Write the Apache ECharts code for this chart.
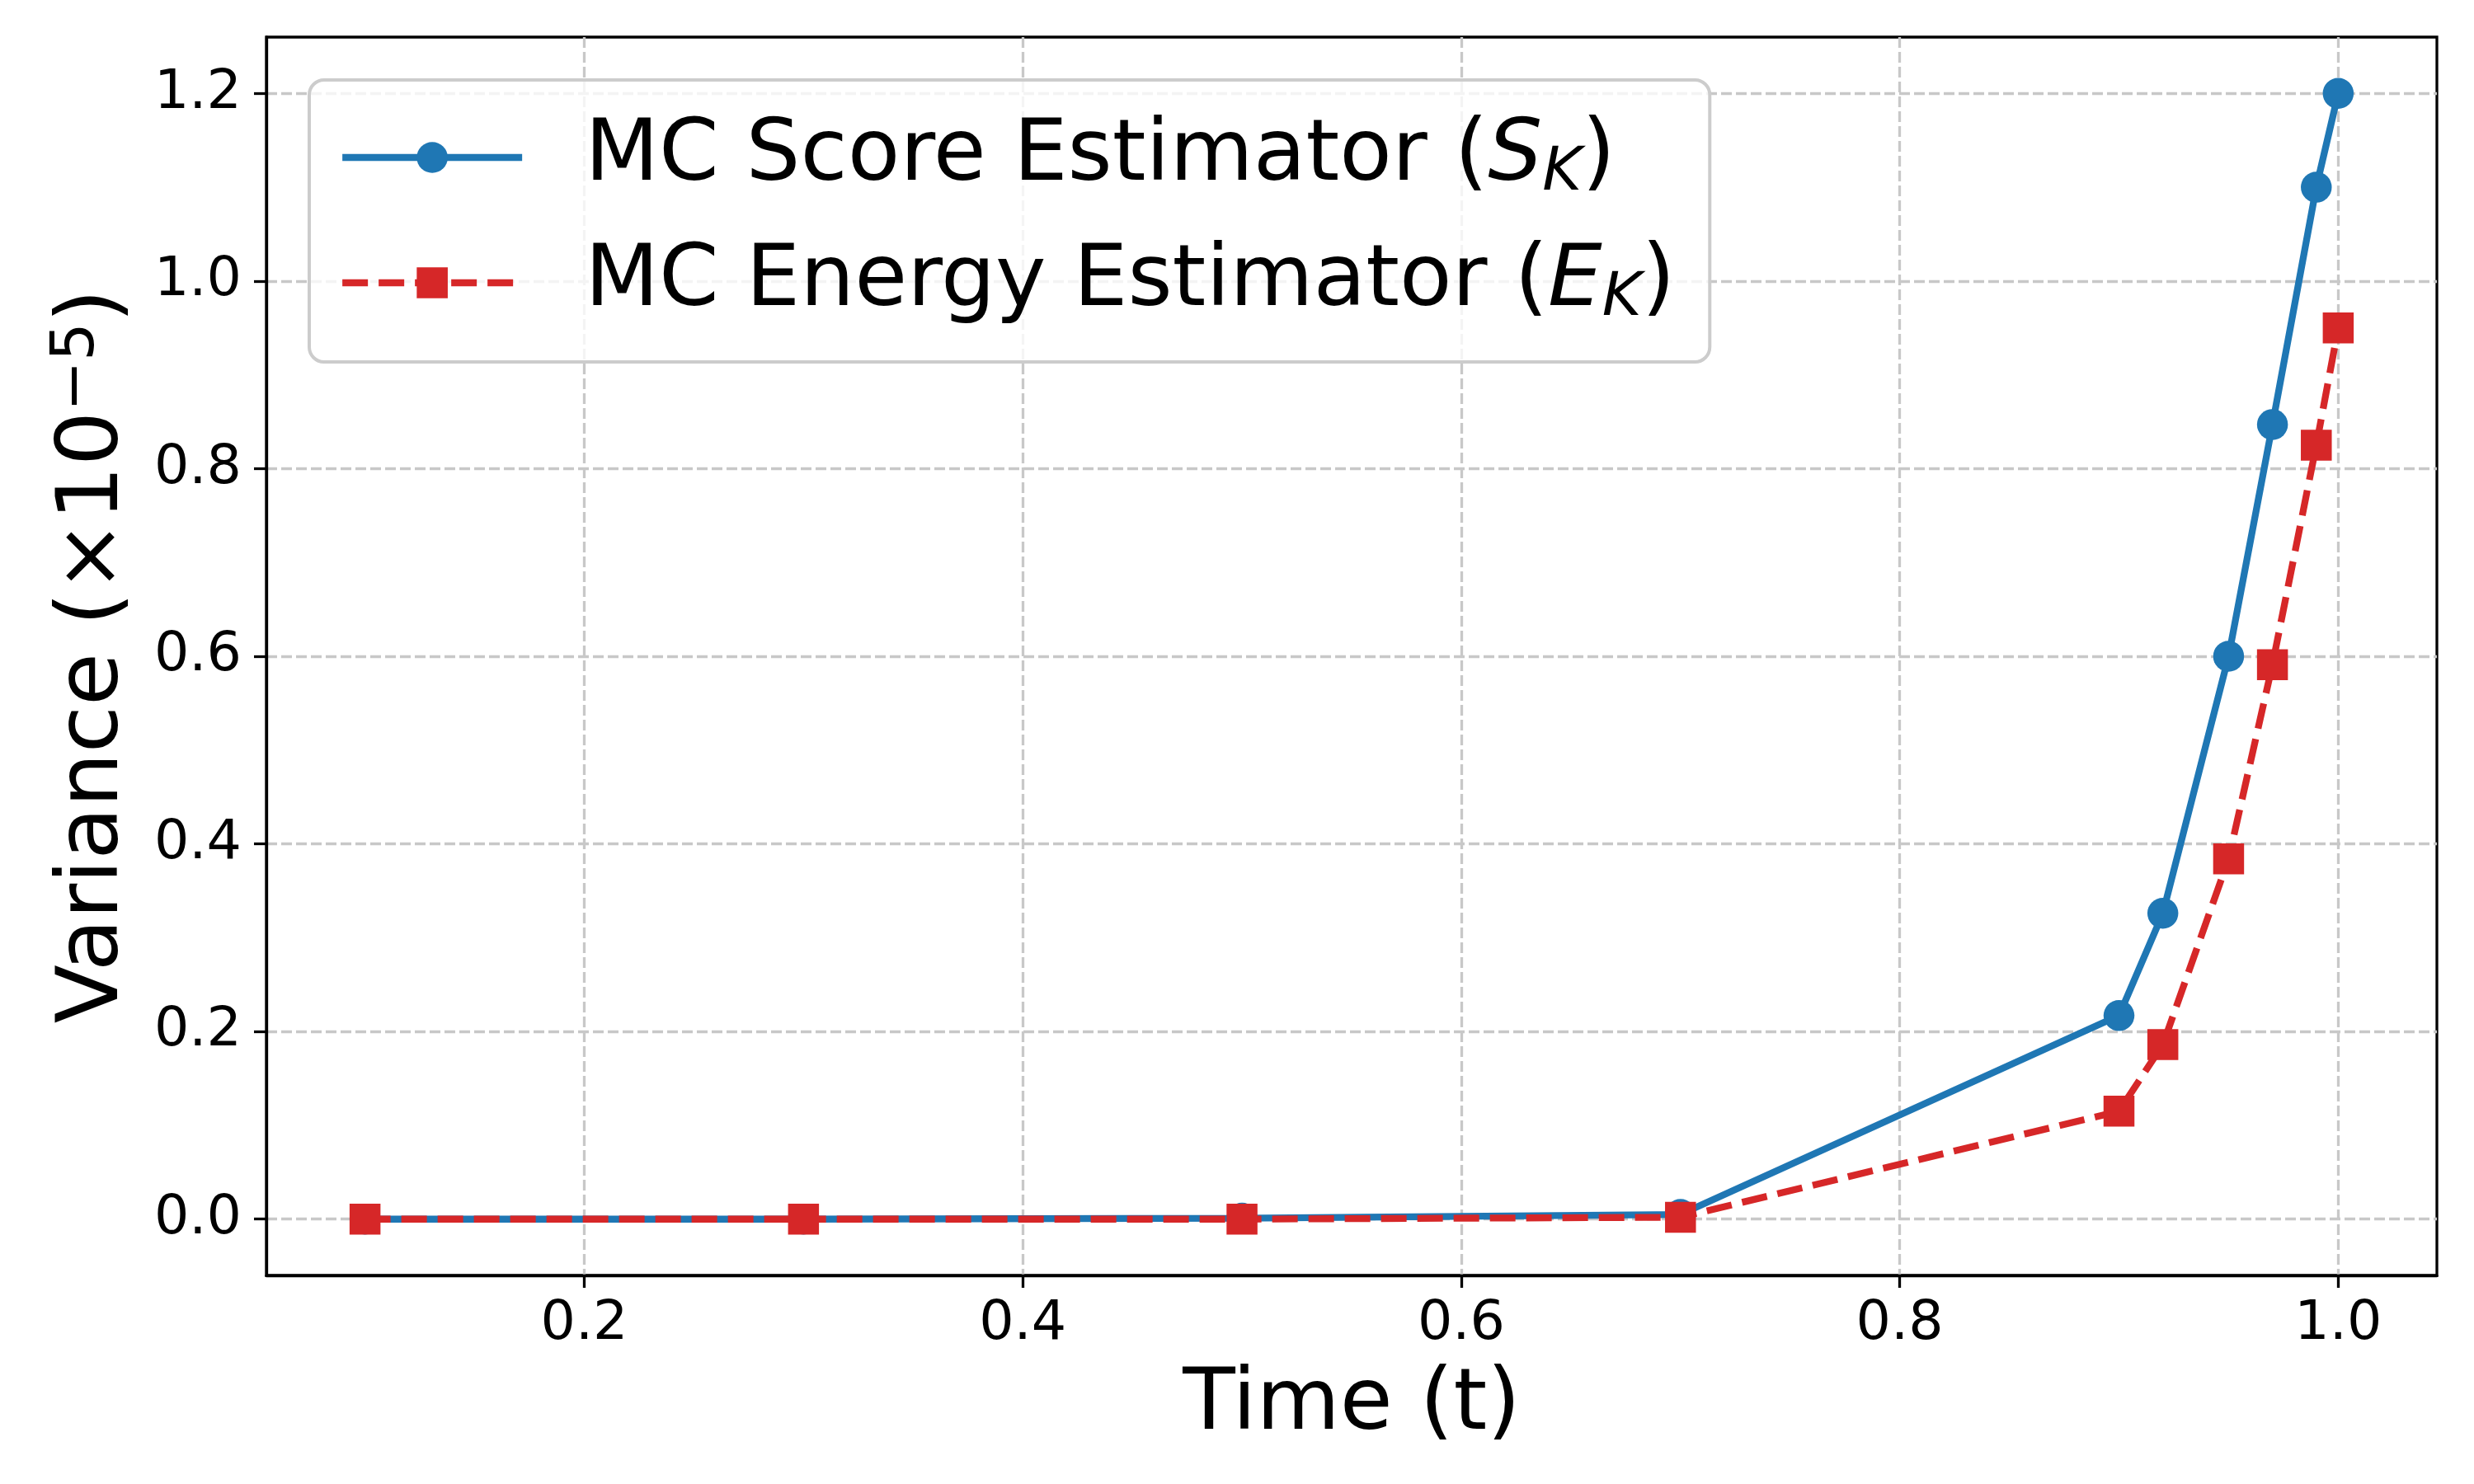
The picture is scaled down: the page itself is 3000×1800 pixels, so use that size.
<!DOCTYPE html>
<html>
<head>
<meta charset="utf-8">
<script src="https://cdn.jsdelivr.net/npm/echarts@6/dist/echarts.min.js"></script>
<style>
html,body{margin:0;padding:0;background:#fff;}
#chart{width:3000px;height:1800px;}
</style>
</head>
<body>
<div id="chart"></div>
<script>
// ---- data ----
var times = [0.1, 0.3, 0.5, 0.7, 0.9, 0.92, 0.95, 0.97, 0.99, 1.0];
var scoreVar = [0.0, 0.0, 0.001, 0.005, 0.217, 0.326, 0.600, 0.847, 1.100, 1.200];
var energyVar = [0.0, 0.0, 0.0, 0.002, 0.115, 0.186, 0.384, 0.591, 0.825, 0.950];
var xTicks = [0.2, 0.4, 0.6, 0.8, 1.0];
var yTicks = [0.0, 0.2, 0.4, 0.6, 0.8, 1.0, 1.2];
var seriesNames = ['MC Score Estimator', 'MC Energy Estimator'];

function pairs(xs, ys) {
  return xs.map(function (x, i) { return [x, ys[i]]; });
}

var FONT = 'DejaVu Sans';
var chart = echarts.init(document.getElementById('chart'), null, {renderer: 'canvas'});

var legendRich = {
  g: {width: 71, fontSize: 104, lineHeight: 114},
  n: {fontFamily: FONT, fontSize: 104, lineHeight: 114, color: '#000'},
  i: {fontFamily: FONT, fontSize: 104, lineHeight: 114, fontStyle: 'italic', color: '#000'},
  s: {fontFamily: FONT, fontSize: 73, lineHeight: 56, fontStyle: 'italic', verticalAlign: 'bottom', color: '#000'}
};

var option = {
  backgroundColor: '#ffffff',
  animation: false,
  grid: {
    left: 323, right: 45, top: 45, bottom: 253,
    show: true, borderColor: '#000', borderWidth: 3.3, backgroundColor: 'transparent'
  },
  legend: {
    orient: 'vertical',
    left: 375,
    top: 97,
    padding: [42, 42, 39, 36],
    itemWidth: 218,
    itemHeight: 47,
    itemGap: 43,
    backgroundColor: 'rgba(255,255,255,0.8)',
    borderColor: '#cccccc',
    borderWidth: 4,
    borderRadius: 18,
    lineStyle: {width: 8.3},
    data: seriesNames,
    formatter: function (name) {
      if (name === seriesNames[0]) {
        return '{g|}{n|MC Score Estimator (}{i|S}{s|K}{n|)}';
      }
      return '{g|}{n|MC Energy Estimator (}{i|E}{s|K}{n|)}';
    },
    textStyle: {fontFamily: FONT, fontSize: 104, color: '#000', rich: legendRich}
  },
  xAxis: {
    type: 'value',
    min: 0.055,
    max: 1.045,
    name: 'Time (t)',
    nameLocation: 'middle',
    nameGap: 107,
    nameTextStyle: {fontFamily: FONT, fontSize: 104, color: '#000'},
    axisLine: {show: true, onZero: false, lineStyle: {color: '#000', width: 3.3}},
    axisTick: {show: true, inside: false, length: 15, lineStyle: {color: '#000', width: 3.3}, customValues: xTicks},
    axisLabel: {
      show: true, margin: 26, fontFamily: FONT, fontSize: 66.7, color: '#000',
      customValues: xTicks,
      formatter: function (v) { return v.toFixed(1); }
    },
    splitLine: {show: true, lineStyle: {color: '#c8c8c8', width: 3.3, type: [13, 5]}}
  },
  yAxis: {
    type: 'value',
    min: -0.06,
    max: 1.26,
    name: '{n|Variance (×10}{sup|−5}{n|)}',
    nameLocation: 'middle',
    nameRotate: 90,
    nameGap: 151,
    nameTextStyle: {
      fontFamily: FONT, fontSize: 104, color: '#000',
      rich: {
        n: {fontFamily: FONT, fontSize: 104, lineHeight: 114, color: '#000'},
        sup: {fontFamily: FONT, fontSize: 73, lineHeight: 53, verticalAlign: 'top', color: '#000'}
      }
    },
    axisLine: {show: true, onZero: false, lineStyle: {color: '#000', width: 3.3}},
    axisTick: {show: true, inside: false, length: 15, lineStyle: {color: '#000', width: 3.3}, customValues: yTicks},
    axisLabel: {
      show: true, margin: 30, fontFamily: FONT, fontSize: 66.7, color: '#000',
      customValues: yTicks,
      formatter: function (v) { return v.toFixed(1); }
    },
    splitLine: {show: true, lineStyle: {color: '#c8c8c8', width: 3.3, type: [13, 5]}}
  },
  series: [
    {
      name: seriesNames[0],
      type: 'line',
      data: pairs(times, scoreVar),
      symbol: 'circle',
      symbolSize: 37.5,
      showAllSymbol: true,
      lineStyle: {color: '#1f77b4', width: 8.3, type: 'solid'},
      itemStyle: {color: '#1f77b4', borderWidth: 0},
      z: 3
    },
    {
      name: seriesNames[1],
      type: 'line',
      data: pairs(times, energyVar),
      symbol: 'rect',
      symbolSize: 37.5,
      showAllSymbol: true,
      lineStyle: {color: '#d62728', width: 8.3, type: [31, 13]},
      itemStyle: {color: '#d62728', borderWidth: 0},
      z: 4
    }
  ]
};
chart.setOption(option);
</script>
</body>
</html>
